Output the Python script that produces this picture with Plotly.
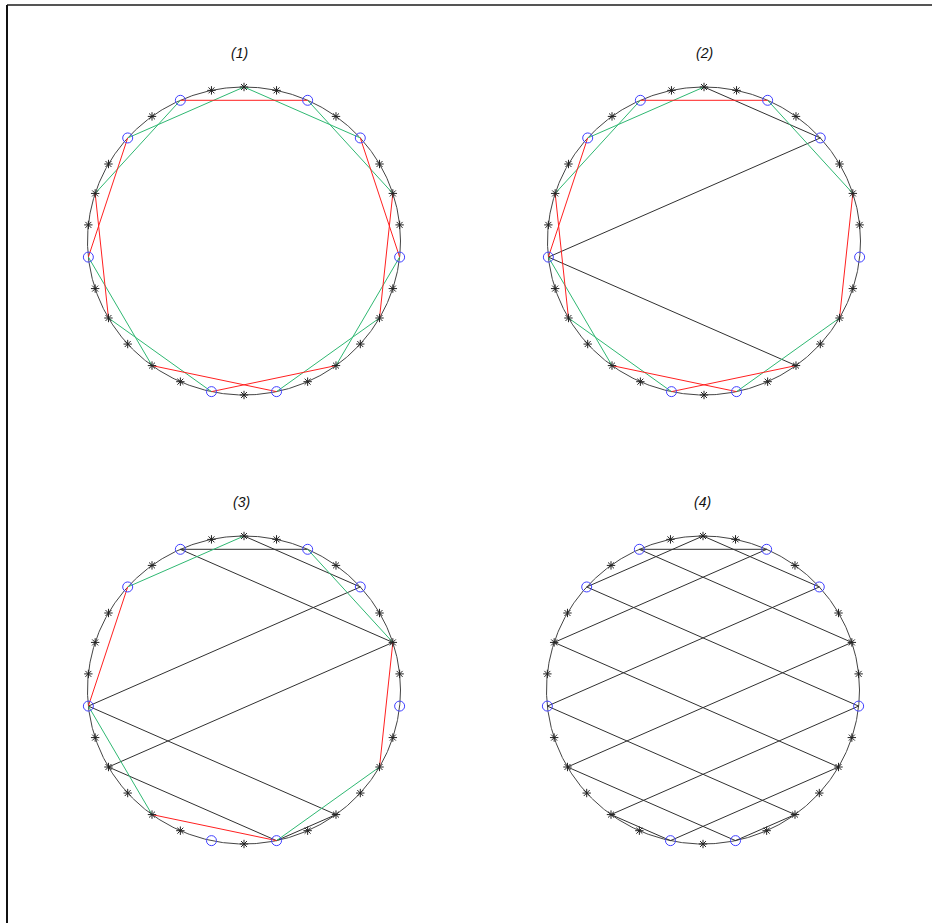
import math
import plotly.graph_objects as go

# Thirty equally spaced nodes on the unit circle: node k sits at 6 + 12*k degrees
node_count = 30
start_deg = 6
step_deg = 12

# Nodes drawn as open blue circles; all others are asterisks
circle_nodes = [3, 5, 9, 11, 15, 21, 23, 29]

titles = ["(1)", "(2)", "(3)", "(4)"]

# Chords per panel, as pairs of node indices
red_edges = [
    [(5, 9), (11, 15), (13, 17), (19, 23), (21, 25), (27, 1), (29, 3)],
    [(5, 9), (11, 15), (13, 17), (19, 23), (21, 25), (27, 1)],
    [(11, 15), (19, 23), (27, 1)],
    [],
]
green_edges = [
    [(1, 5), (3, 7), (7, 11), (9, 13), (15, 19), (17, 21), (23, 27), (25, 29)],
    [(1, 5), (7, 11), (9, 13), (15, 19), (17, 21), (23, 27)],
    [(1, 5), (7, 11), (15, 19), (23, 27)],
    [],
]
black_edges = [
    [],
    [(3, 7), (3, 15), (15, 25)],
    [(5, 9), (3, 7), (9, 1), (3, 15), (1, 17), (15, 25), (17, 23), (23, 25)],
    [(5, 9), (3, 7), (9, 1), (7, 11), (5, 13), (3, 15), (1, 17), (11, 29),
     (13, 27), (15, 25), (17, 23), (19, 21), (29, 19), (27, 21), (25, 23)],
]

W, H = 932, 923
# panel centres in pixels and circle radius (x, y) in pixels
centres = [(244, 241), (704, 241), (244, 690), (703, 690)]
title_pos = [(239, 53), (704, 53), (242, 502), (702, 502)]
rad_x, rad_y = 156.5, 154.0
half = 215  # half-size of each panel's plotting box, px

RED = "#ff2020"
GREEN = "#2fb872"
DARK = "#303030"


def node_xy(k):
    a = math.radians(start_deg + step_deg * k)
    return math.cos(a), math.sin(a)


def chord_trace(edges, color, xa, ya):
    xs, ys = [], []
    for a, b in edges:
        x0, y0 = node_xy(a)
        x1, y1 = node_xy(b)
        xs += [x0, x1, None]
        ys += [y0, y1, None]
    return go.Scatter(x=xs, y=ys, mode="lines", xaxis=xa, yaxis=ya,
                      line=dict(color=color, width=1), hoverinfo="skip",
                      showlegend=False)


fig = go.Figure()
layout = {}
annotations = []

ring = [math.radians(d / 2) for d in range(0, 721)]
star_nodes = [k for k in range(node_count) if k not in circle_nodes]

for p in range(4):
    n = "" if p == 0 else str(p + 1)
    xa, ya = "x" + n, "y" + n
    cx, cy = centres[p]
    layout["xaxis" + n] = dict(
        domain=[(cx - half) / W, (cx + half) / W],
        range=[-half / rad_x, half / rad_x], visible=False, anchor=ya,
    )
    layout["yaxis" + n] = dict(
        domain=[1 - (cy + half) / H, 1 - (cy - half) / H],
        range=[-half / rad_y, half / rad_y], visible=False, anchor=xa,
    )

    fig.add_trace(go.Scatter(
        x=[math.cos(t) for t in ring], y=[math.sin(t) for t in ring],
        mode="lines", xaxis=xa, yaxis=ya,
        line=dict(color="#444444", width=1), hoverinfo="skip", showlegend=False,
    ))
    fig.add_trace(chord_trace(black_edges[p], DARK, xa, ya))
    fig.add_trace(chord_trace(green_edges[p], GREEN, xa, ya))
    fig.add_trace(chord_trace(red_edges[p], RED, xa, ya))

    sx = [node_xy(k)[0] for k in star_nodes]
    sy = [node_xy(k)[1] for k in star_nodes]
    fig.add_trace(go.Scatter(
        x=sx, y=sy, mode="markers", xaxis=xa, yaxis=ya,
        marker=dict(symbol="asterisk-open", size=7, color="#222222",
                    line=dict(color="#222222", width=1)),
        hoverinfo="skip", showlegend=False, cliponaxis=False,
    ))
    bx = [node_xy(k)[0] for k in circle_nodes]
    by = [node_xy(k)[1] for k in circle_nodes]
    fig.add_trace(go.Scatter(
        x=bx, y=by, mode="markers", xaxis=xa, yaxis=ya,
        marker=dict(symbol="circle-open", size=10, color="#4040ff",
                    line=dict(color="#4040ff", width=1)),
        hoverinfo="skip", showlegend=False, cliponaxis=False,
    ))

    tx, ty = title_pos[p]
    annotations.append(dict(
        text=titles[p], x=tx / W, y=1 - ty / H,
        xref="paper", yref="paper", xanchor="center", yanchor="middle",
        showarrow=False,
        font=dict(family="Liberation Sans", size=14, color="#111111",
                  style="italic"),
    ))

fig.update_layout(
    width=W, height=H,
    margin=dict(l=0, r=0, t=0, b=0),
    paper_bgcolor="white", plot_bgcolor="white",
    annotations=annotations,
    shapes=[
        dict(type="line", xref="paper", yref="paper",
             x0=7 / W, x1=1, y0=1 - 5 / H, y1=1 - 5 / H,
             line=dict(color="#555555", width=2)),
        dict(type="line", xref="paper", yref="paper",
             x0=7 / W, x1=7 / W, y0=0, y1=1 - 5 / H,
             line=dict(color="#111111", width=2)),
    ],
    **layout,
)

fig.write_html("out.html")
